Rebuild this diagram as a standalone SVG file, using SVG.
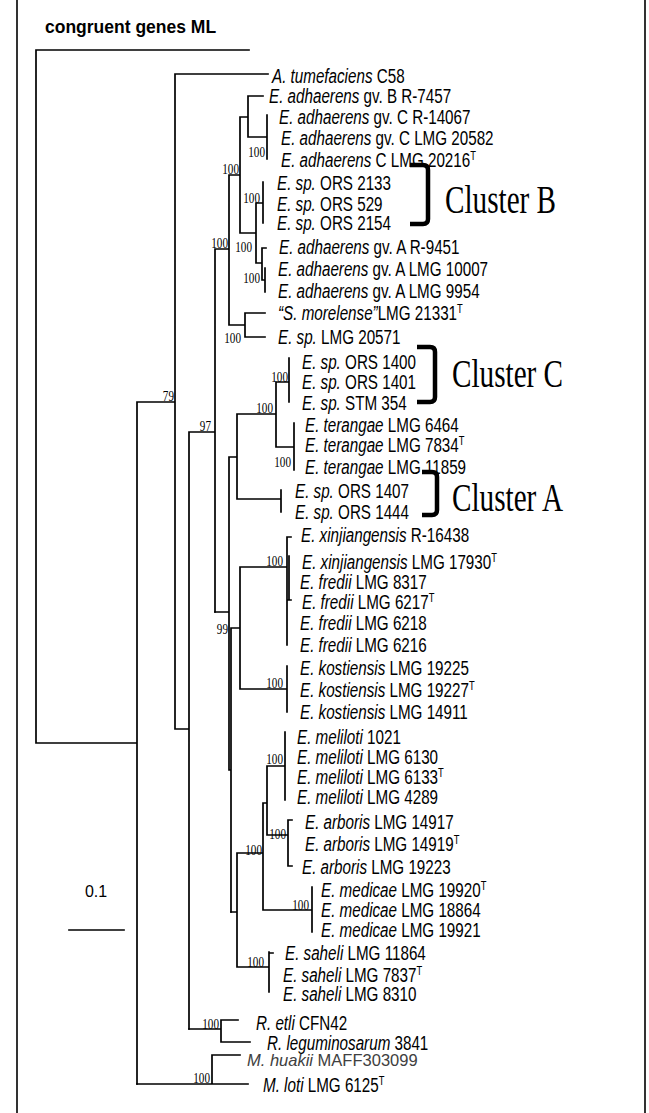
<svg xmlns="http://www.w3.org/2000/svg" width="649" height="1113" viewBox="0 0 649 1113">
<style>
.e{fill:none;stroke:#000;stroke-width:1.7;stroke-linecap:square}
.fr{fill:none;stroke:#000;stroke-width:1.6}
.l{font-family:"Liberation Sans",Arial,sans-serif;font-size:19.5px;fill:#000}
.i{font-style:italic}
.sp{font-size:12px}
.b{font-family:"Liberation Serif","Times New Roman",serif;font-size:15.5px;text-anchor:end;fill:#000}
.c{font-family:"Liberation Serif","Times New Roman",serif;font-size:40px;fill:#000}
.br{fill:none;stroke:#000;stroke-width:4.5}
</style>
<rect width="649" height="1113" fill="#fff"/>
<g id="frame">
<path class="fr" d="M17,0V1113M645,0V1113"/>
</g>
<text x="45" y="33" font-family="Liberation Sans,Arial,sans-serif" font-weight="bold" font-size="17.5">congruent genes ML</text>
<g id="edges">
<path class="e" d="M36,50H249M36,50V743H137M137,402V1084M137,402H175M175,74V729M175,74H268M175,729H189M189,432V1029M189,432H215M215,249V612M215,249H229M229,175V325M229,175H240M240,117V233M240,117H248M248,96V137M248,96H263M248,137H267M267,115V159M240,233H256M256,203V263M256,203H263M263,182V223M256,263H262M262,248V280M262,248H266M262,280H265M265,268V292M229,325H245M245,313V337M245,313H265M245,337H265"/>
<path class="e" d="M215,612H229M229,457V770M229,457H237M237,414V499M237,414H276M276,382V447M276,382H289M289,358V402M276,447H294M294,423V470M237,499H281M281,490V512M229,770H231M231,628V912M231,628H240M240,567V689M240,567H287M287,537V645M289,556V600M287,537H291M287,600H291M240,689H287M287,666V712"/>
<path class="e" d="M231,912H237M237,853V967M237,853H263M263,803V910M263,803H267M267,766V835M267,766H285M285,732V800M267,835H288M288,820V866M288,820H292M288,866H292M263,910H312M312,887V932M237,967H269M269,952V992M269,953H273"/>
<path class="e" d="M189,1029H221M221,1020V1042M221,1020H238M221,1042H250M137,1084H212M212,1055V1084M212,1055H240M212,1084H248"/>
</g>
<g id="support">
<text class="b" transform="translate(265,157) scale(0.72,1)">100</text>
<text class="b" transform="translate(239,174) scale(0.72,1)">100</text>
<text class="b" transform="translate(260,203) scale(0.72,1)">100</text>
<text class="b" transform="translate(252,252) scale(0.72,1)">100</text>
<text class="b" transform="translate(228,248) scale(0.72,1)">100</text>
<text class="b" transform="translate(260,283) scale(0.72,1)">100</text>
<text class="b" transform="translate(241,343) scale(0.72,1)">100</text>
<text class="b" transform="translate(174,401) scale(0.72,1)">79</text>
<text class="b" transform="translate(211,431) scale(0.72,1)">97</text>
<text class="b" transform="translate(288,382) scale(0.72,1)">100</text>
<text class="b" transform="translate(273,413) scale(0.72,1)">100</text>
<text class="b" transform="translate(291,467) scale(0.72,1)">100</text>
<text class="b" transform="translate(228,634) scale(0.72,1)">99</text>
<text class="b" transform="translate(283,566) scale(0.72,1)">100</text>
<text class="b" transform="translate(283,688) scale(0.72,1)">100</text>
<text class="b" transform="translate(283,764) scale(0.72,1)">100</text>
<text class="b" transform="translate(286,839) scale(0.72,1)">100</text>
<text class="b" transform="translate(262,855) scale(0.72,1)">100</text>
<text class="b" transform="translate(309,910) scale(0.72,1)">100</text>
<text class="b" transform="translate(264,967) scale(0.72,1)">100</text>
<text class="b" transform="translate(219,1029) scale(0.72,1)">100</text>
<text class="b" transform="translate(210,1083) scale(0.72,1)">100</text>
</g>
<g id="n1"><text class="l" transform="translate(272,83) scale(0.78,1)"><tspan class="i">A. tumefaciens</tspan> C58</text></g>
<g id="n2"><text class="l" transform="translate(269,103) scale(0.78,1)"><tspan class="i">E. adhaerens</tspan> gv. B R-7457</text></g>
<g id="n3"><text class="l" transform="translate(279,124) scale(0.78,1)"><tspan class="i">E. adhaerens</tspan> gv. C R-14067</text></g>
<g id="n4"><text class="l" transform="translate(281,145) scale(0.78,1)"><tspan class="i">E. adhaerens</tspan> gv. C LMG 20582</text></g>
<g id="n5"><text class="l" transform="translate(281,167) scale(0.78,1)"><tspan class="i">E. adhaerens</tspan> C LMG 20216<tspan class="sp" dy="-7">T</tspan></text></g>
<g id="n6"><text class="l" transform="translate(277,190) scale(0.78,1)"><tspan class="i">E. sp.</tspan> ORS 2133</text></g>
<g id="n7"><text class="l" transform="translate(277,211) scale(0.78,1)"><tspan class="i">E. sp.</tspan> ORS 529</text></g>
<g id="n8"><text class="l" transform="translate(277,230) scale(0.78,1)"><tspan class="i">E. sp.</tspan> ORS 2154</text></g>
<g id="n9"><text class="l" transform="translate(279,254) scale(0.78,1)"><tspan class="i">E. adhaerens</tspan> gv. A  R-9451</text></g>
<g id="n10"><text class="l" transform="translate(278,276) scale(0.78,1)"><tspan class="i">E. adhaerens</tspan> gv. A LMG 10007</text></g>
<g id="n11"><text class="l" transform="translate(278,298) scale(0.78,1)"><tspan class="i">E. adhaerens</tspan> gv. A LMG 9954</text></g>
<g id="n12"><text class="l" transform="translate(278,320) scale(0.78,1)"><tspan class="i">“S. morelense”</tspan>LMG 21331<tspan class="sp" dy="-7">T</tspan></text></g>
<g id="n13"><text class="l" transform="translate(278,344) scale(0.78,1)"><tspan class="i">E. sp.</tspan> LMG 20571</text></g>
<g id="n14"><text class="l" transform="translate(302,369) scale(0.78,1)"><tspan class="i">E. sp.</tspan> ORS 1400</text></g>
<g id="n15"><text class="l" transform="translate(302,389) scale(0.78,1)"><tspan class="i">E. sp.</tspan> ORS 1401</text></g>
<g id="n16"><text class="l" transform="translate(302,410) scale(0.78,1)"><tspan class="i">E. sp.</tspan> STM 354</text></g>
<g id="n17"><text class="l" transform="translate(305,432) scale(0.78,1)"><tspan class="i">E. terangae</tspan> LMG 6464</text></g>
<g id="n18"><text class="l" transform="translate(305,452) scale(0.78,1)"><tspan class="i">E. terangae</tspan> LMG 7834<tspan class="sp" dy="-7">T</tspan></text></g>
<g id="n19"><text class="l" transform="translate(305,474) scale(0.78,1)"><tspan class="i">E. terangae</tspan> LMG 11859</text></g>
<g id="n20"><text class="l" transform="translate(295,498) scale(0.78,1)"><tspan class="i">E. sp.</tspan> ORS 1407</text></g>
<g id="n21"><text class="l" transform="translate(295,519) scale(0.78,1)"><tspan class="i">E. sp.</tspan> ORS 1444</text></g>
<g id="n22"><text class="l" transform="translate(301,542) scale(0.78,1)"><tspan class="i">E. xinjiangensis</tspan> R-16438</text></g>
<g id="n23"><text class="l" transform="translate(302,569) scale(0.78,1)"><tspan class="i">E. xinjiangensis</tspan> LMG 17930<tspan class="sp" dy="-7">T</tspan></text></g>
<g id="n24"><text class="l" transform="translate(300,589) scale(0.78,1)"><tspan class="i">E. fredii</tspan> LMG 8317</text></g>
<g id="n25"><text class="l" transform="translate(302,609) scale(0.78,1)"><tspan class="i">E. fredii</tspan> LMG 6217<tspan class="sp" dy="-7">T</tspan></text></g>
<g id="n26"><text class="l" transform="translate(300,630) scale(0.78,1)"><tspan class="i">E. fredii</tspan> LMG 6218</text></g>
<g id="n27"><text class="l" transform="translate(300,652) scale(0.78,1)"><tspan class="i">E. fredii</tspan> LMG 6216</text></g>
<g id="n28"><text class="l" transform="translate(300,675) scale(0.78,1)"><tspan class="i">E. kostiensis</tspan> LMG 19225</text></g>
<g id="n29"><text class="l" transform="translate(300,697) scale(0.78,1)"><tspan class="i">E. kostiensis</tspan> LMG 19227<tspan class="sp" dy="-7">T</tspan></text></g>
<g id="n30"><text class="l" transform="translate(300,719) scale(0.78,1)"><tspan class="i">E. kostiensis</tspan> LMG 14911</text></g>
<g id="n31"><text class="l" transform="translate(297,744) scale(0.78,1)"><tspan class="i">E. meliloti</tspan> 1021</text></g>
<g id="n32"><text class="l" transform="translate(297,764) scale(0.78,1)"><tspan class="i">E. meliloti</tspan> LMG 6130</text></g>
<g id="n33"><text class="l" transform="translate(297,784) scale(0.78,1)"><tspan class="i">E. meliloti</tspan> LMG 6133<tspan class="sp" dy="-7">T</tspan></text></g>
<g id="n34"><text class="l" transform="translate(297,804) scale(0.78,1)"><tspan class="i">E. meliloti</tspan> LMG 4289</text></g>
<g id="n35"><text class="l" transform="translate(305,829) scale(0.78,1)"><tspan class="i">E. arboris</tspan> LMG 14917</text></g>
<g id="n36"><text class="l" transform="translate(305,851) scale(0.78,1)"><tspan class="i">E. arboris</tspan> LMG 14919<tspan class="sp" dy="-7">T</tspan></text></g>
<g id="n37"><text class="l" transform="translate(302,874) scale(0.78,1)"><tspan class="i">E. arboris</tspan> LMG 19223</text></g>
<g id="n38"><text class="l" transform="translate(321,897) scale(0.78,1)"><tspan class="i">E. medicae</tspan> LMG 19920<tspan class="sp" dy="-7">T</tspan></text></g>
<g id="n39"><text class="l" transform="translate(321,917) scale(0.78,1)"><tspan class="i">E. medicae</tspan> LMG 18864</text></g>
<g id="n40"><text class="l" transform="translate(321,937) scale(0.78,1)"><tspan class="i">E. medicae</tspan> LMG 19921</text></g>
<g id="n41"><text class="l" transform="translate(285,960) scale(0.78,1)"><tspan class="i">E. saheli</tspan> LMG 11864</text></g>
<g id="n42"><text class="l" transform="translate(283,982) scale(0.78,1)"><tspan class="i">E. saheli</tspan> LMG 7837<tspan class="sp" dy="-7">T</tspan></text></g>
<g id="n43"><text class="l" transform="translate(283,1001) scale(0.78,1)"><tspan class="i">E. saheli</tspan> LMG 8310</text></g>
<g id="n44"><text class="l" transform="translate(256,1030) scale(0.78,1)"><tspan class="i">R. etli</tspan> CFN42</text></g>
<g id="n45"><text class="l" transform="translate(267,1050) scale(0.78,1)"><tspan class="i">R. leguminosarum</tspan> 3841</text></g>
<g id="n46"><text x="247" y="1066" font-family="Liberation Sans,Arial,sans-serif" font-size="16.5" fill="#404040"><tspan class="i">M. huakii</tspan> MAFF303099</text></g>
<g id="n47"><text class="l" transform="translate(263,1092) scale(0.78,1)"><tspan class="i">M. loti</tspan> LMG 6125<tspan class="sp" dy="-7">T</tspan></text></g>
<g id="clusterB"><path class="br" d="M410,165H423Q428,165 428,170V219Q428,224 423,224H410"/><text class="c" transform="translate(445,213) scale(0.73,1)">Cluster B</text></g>
<g id="clusterC"><path class="br" d="M417,347H430Q435,347 435,352V397Q435,402 430,402H417"/><text class="c" transform="translate(452,387) scale(0.73,1)">Cluster C</text></g>
<g id="clusterA"><path class="br" d="M422,472H432Q437,472 437,477V510Q437,515 432,515H422"/><text class="c" transform="translate(452,511) scale(0.73,1)">Cluster A</text></g>
<g id="scale">
<text x="96" y="897" font-family="Liberation Sans,Arial,sans-serif" font-size="16" text-anchor="middle">0.1</text>
<path class="e" d="M69,930H124"/>
</g>
</svg>
